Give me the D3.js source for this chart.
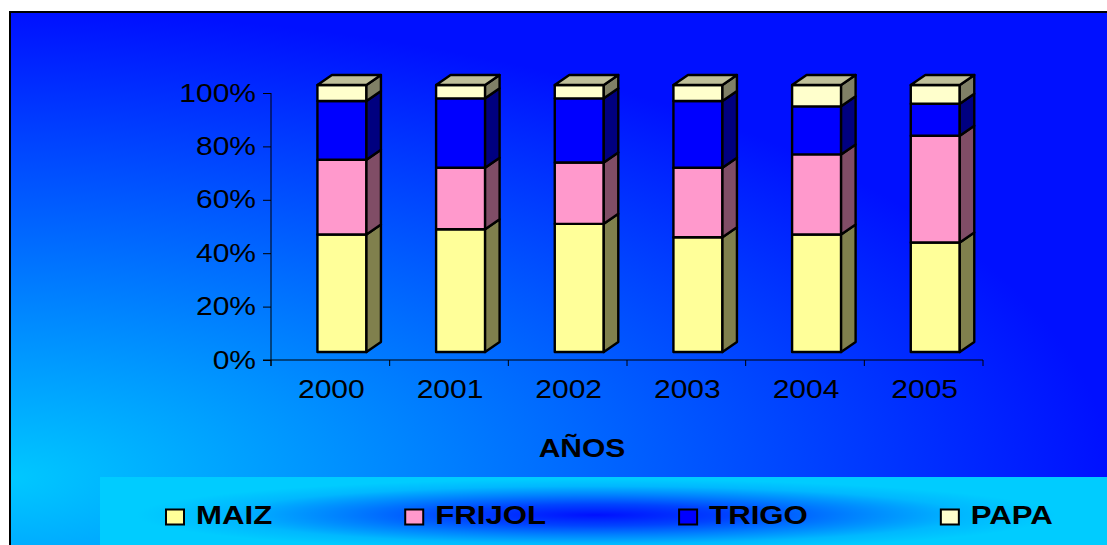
<!DOCTYPE html>
<html lang="es">
<head>
<meta charset="utf-8">
<title>AÑOS</title>
<script src="https://cdn.jsdelivr.net/npm/d3@7/dist/d3.min.js"></script>
<style>
  body { margin: 0; background: #fff; }
  svg { display: block; font-family: "Liberation Sans", Arial, sans-serif; }
</style>
</head>
<body>
<script>
// valores (% por año)
var years = ['2000', '2001', '2002', '2003', '2004', '2005'];
var maiz   = [44, 46, 48, 43, 44, 41];
var frijol = [28, 23, 23, 26, 30, 40];
var trigo  = [22, 26, 24, 25, 18, 12];
var papa   = [6, 5, 5, 6, 8, 7];
var seriesNames = ['MAIZ', 'FRIJOL', 'TRIGO', 'PAPA'];
var yTicks = [0, 20, 40, 60, 80, 100];

var width = 1107, height = 545;
var stretch = 1.2;            // el texto del original esta ensanchado
var front = { MAIZ: '#ffff99', FRIJOL: '#ff99cc', TRIGO: '#0000ff', PAPA: '#ffffcc' };

var svg = d3.select('body').append('svg')
    .attr('width', width)
    .attr('height', height);

var defs = svg.append('defs');
// degradado desde la esquina inferior izquierda
var bg = defs.append('radialGradient')
    .attr('id', 'bg')
    .attr('gradientUnits', 'userSpaceOnUse')
    .attr('cx', 0).attr('cy', 0).attr('r', 1)
    .attr('gradientTransform', 'translate(10,478) scale(1100,466)');
bg.append('stop').attr('offset', 0).attr('stop-color', '#00c8ff');
bg.append('stop').attr('offset', 1).attr('stop-color', '#0010ff');

var lg = defs.append('radialGradient')
    .attr('id', 'lg')
    .attr('gradientUnits', 'userSpaceOnUse')
    .attr('cx', 0).attr('cy', 0).attr('r', 1)
    .attr('gradientTransform', 'translate(596,515) scale(460,36)');
lg.append('stop').attr('offset', 0).attr('stop-color', '#0010ff');
lg.append('stop').attr('offset', 0.3).attr('stop-color', '#0044ff');
lg.append('stop').attr('offset', 0.55).attr('stop-color', '#0080ff');
lg.append('stop').attr('offset', 0.8).attr('stop-color', '#00b8ff');
lg.append('stop').attr('offset', 1).attr('stop-color', '#00ccff');

// fondo del grafico
svg.append('rect')
    .attr('x', 10).attr('y', 12)
    .attr('width', 1130).attr('height', 570)
    .attr('fill', 'url(#bg)')
    .attr('stroke', '#000')
    .attr('stroke-width', 2);

// banda de la leyenda
svg.append('rect')
    .attr('x', 100).attr('y', 477)
    .attr('width', 1020).attr('height', 80)
    .attr('fill', 'url(#lg)');

var x = d3.scaleBand().domain(years).range([271, 983]);
var y = d3.scaleLinear().domain([0, 100]).range([360, 93]);

// eje y
var yAxis = svg.append('g')
    .attr('transform', 'translate(271,0)')
    .call(d3.axisLeft(y).tickValues(yTicks).tickSize(8).tickSizeOuter(0)
        .tickFormat(function (d) { return d + '%'; }));
yAxis.select('.domain').remove();
yAxis.selectAll('line').attr('stroke', '#000');
yAxis.selectAll('text')
    .attr('x', 0)
    .attr('dy', '0.32em')
    .attr('transform', 'translate(-15,0) scale(' + stretch + ',1)')
    .attr('font-size', 25)
    .attr('font-family', null)
    .attr('fill', '#000');

svg.append('line')
    .attr('x1', 271).attr('x2', 271)
    .attr('y1', y(100)).attr('y2', 366)
    .attr('stroke', '#000');

// eje x
svg.append('line')
    .attr('x1', 263).attr('x2', x.range()[1])
    .attr('y1', 360).attr('y2', 360)
    .attr('stroke', '#000');
svg.append('g').selectAll('line')
    .data(years.concat(['end']))
    .enter().append('line')
    .attr('x1', function (d) { return d === 'end' ? x.range()[1] : x(d); })
    .attr('x2', function (d) { return d === 'end' ? x.range()[1] : x(d); })
    .attr('y1', 360).attr('y2', 366)
    .attr('stroke', '#000');
svg.append('g').selectAll('text')
    .data(years)
    .enter().append('text')
    .attr('transform', function (d) {
        return 'translate(' + (x(d) + x.bandwidth() / 2 + 1) + ',398) scale(' + stretch + ',1)';
    })
    .attr('text-anchor', 'middle')
    .attr('font-size', 25)
    .text(function (d) { return d; });

svg.append('text')
    .attr('transform', 'translate(582,457) scale(' + stretch + ',1)')
    .attr('text-anchor', 'middle')
    .attr('font-size', 25)
    .attr('font-weight', 'bold')
    .text('AÑOS');

// barras 3D apiladas
var table = years.map(function (yr, i) {
    return { year: yr, MAIZ: maiz[i], FRIJOL: frijol[i], TRIGO: trigo[i], PAPA: papa[i] };
});
var stacked = d3.stack().keys(seriesNames)(table);

var dX = 14.5, dY = 10, back = 0.8;
var barW = x.bandwidth() * 0.413;

function shade(c, k) {
    var rgb = d3.rgb(c);
    return d3.rgb(rgb.r * k, rgb.g * k, rgb.b * k).toString();
}

years.forEach(function (yr, i) {
    var g = svg.append('g').attr('class', 'bar');
    var fx0 = x(yr) + (x.bandwidth() - barW) / 2 + back * dX;
    var fx1 = fx0 + barW;
    stacked.forEach(function (s, k) {
        var d = s[i];
        var y0 = y(d[0]) - back * dY, y1 = y(d[1]) - back * dY;
        var col = front[s.key];
        g.append('rect')
            .attr('x', fx0).attr('y', y1)
            .attr('width', barW).attr('height', y0 - y1)
            .attr('fill', col);
        g.append('path')
            .attr('d', 'M' + fx1 + ',' + y1 + 'L' + (fx1 + dX) + ',' + (y1 - dY) +
                'L' + (fx1 + dX) + ',' + (y0 - dY) + 'L' + fx1 + ',' + y0 + 'Z')
            .attr('fill', shade(col, 0.5));
        if (k === stacked.length - 1) {
            g.append('path')
                .attr('d', 'M' + fx0 + ',' + y1 + 'L' + (fx0 + dX) + ',' + (y1 - dY) +
                    'L' + (fx1 + dX) + ',' + (y1 - dY) + 'L' + fx1 + ',' + y1 + 'Z')
                .attr('fill', shade(col, 0.75));
        }
    });
    g.selectAll('rect, path')
        .attr('stroke', '#000')
        .attr('stroke-width', 2.4)
        .attr('stroke-linejoin', 'round');
});

// leyenda
var lx = 166, gap = 133;
seriesNames.forEach(function (name) {
    var item = svg.append('g');
    item.append('rect')
        .attr('x', lx).attr('y', 509.5)
        .attr('width', 18).attr('height', 15)
        .attr('fill', front[name])
        .attr('stroke', '#000')
        .attr('stroke-width', 2);
    var t = item.append('text')
        .attr('transform', 'translate(' + (lx + 30) + ',524) scale(' + stretch + ',1)')
        .attr('font-size', 26)
        .attr('font-weight', 'bold')
        .text(name);
    lx += 30 + t.node().getComputedTextLength() * stretch + gap;
});
</script>
</body>
</html>
